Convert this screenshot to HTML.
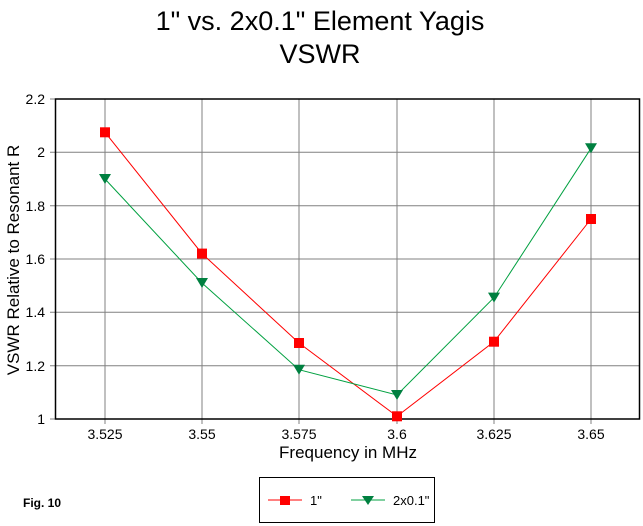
<!DOCTYPE html>
<html><head><style>body{margin:0;background:#fff}svg{display:block}</style></head><body>
<svg width="643" height="526" xmlns="http://www.w3.org/2000/svg" font-family="Liberation Sans, Arial, sans-serif">
<rect width="643" height="526" fill="#fff"/>
<text x="320" y="30" font-size="27" text-anchor="middle">1" vs. 2x0.1" Element Yagis</text>
<text x="320" y="63" font-size="27" text-anchor="middle">VSWR</text>
<g stroke="#808080" stroke-width="1">
<line x1="50" y1="152.3" x2="640" y2="152.3"/>
<line x1="50" y1="205.7" x2="640" y2="205.7"/>
<line x1="50" y1="259" x2="640" y2="259"/>
<line x1="50" y1="312.3" x2="640" y2="312.3"/>
<line x1="50" y1="365.7" x2="640" y2="365.7"/>
<line x1="50" y1="99" x2="55" y2="99"/>
<line x1="50" y1="419" x2="55" y2="419"/>
<line x1="105" y1="99" x2="105" y2="424"/>
<line x1="202" y1="99" x2="202" y2="424"/>
<line x1="299" y1="99" x2="299" y2="424"/>
<line x1="397" y1="99" x2="397" y2="424"/>
<line x1="494" y1="99" x2="494" y2="424"/>
<line x1="591" y1="99" x2="591" y2="424"/>
</g>
<rect x="55.5" y="99" width="584" height="320" fill="none" stroke="#000" stroke-width="1.5"/>
<g font-size="14" text-anchor="end">
<text x="45" y="104">2.2</text><text x="45" y="157">2</text><text x="45" y="211">1.8</text>
<text x="45" y="264">1.6</text><text x="45" y="317">1.4</text><text x="45" y="371">1.2</text><text x="45" y="424">1</text>
</g>
<g font-size="14" text-anchor="middle">
<text x="105" y="439">3.525</text><text x="202" y="439">3.55</text><text x="299" y="439">3.575</text>
<text x="397" y="439">3.6</text><text x="494" y="439">3.625</text><text x="591" y="439">3.65</text>
</g>
<text x="348" y="458" font-size="17" text-anchor="middle">Frequency in MHz</text>
<text transform="translate(19,260) rotate(-90)" font-size="17" text-anchor="middle">VSWR Relative to Resonant R</text>
<polyline points="105,132.3 202,253.6 299,343 397,416.3 494,341.7 591,219" fill="none" stroke="#ff0000" stroke-width="1"/>
<polyline points="105,179 202,283 299,369.7 397,395 494,297.6 591,148.3" fill="none" stroke="#00a040" stroke-width="1"/>
<g fill="#ff0000">
<rect x="100" y="127.3" width="10" height="10"/><rect x="197" y="248.6" width="10" height="10"/>
<rect x="294" y="338" width="10" height="10"/><rect x="392" y="411.3" width="10" height="10"/>
<rect x="489" y="336.7" width="10" height="10"/><rect x="586" y="214" width="10" height="10"/>
</g>
<g fill="#008040">
<polygon points="99,174 111,174 105,184"/><polygon points="196,278 208,278 202,288"/>
<polygon points="293,364.7 305,364.7 299,374.7"/><polygon points="391,390 403,390 397,400"/>
<polygon points="488,292.6 500,292.6 494,302.6"/><polygon points="585,143.3 597,143.3 591,153.3"/>
</g>
<text x="23" y="507" font-size="12" font-weight="bold">Fig. 10</text>
<rect x="259.5" y="477.5" width="175" height="45" fill="none" stroke="#000" stroke-width="1"/>
<line x1="268" y1="500" x2="302" y2="500" stroke="#ff0000"/>
<rect x="280" y="496" width="10" height="9" fill="#ff0000"/>
<text x="310" y="505" font-size="13">1"</text>
<line x1="351" y1="500" x2="385" y2="500" stroke="#00a040"/>
<polygon points="362,496 374,496 368,505" fill="#008040"/>
<text x="393" y="505" font-size="13">2x0.1"</text>
</svg>
</body></html>
